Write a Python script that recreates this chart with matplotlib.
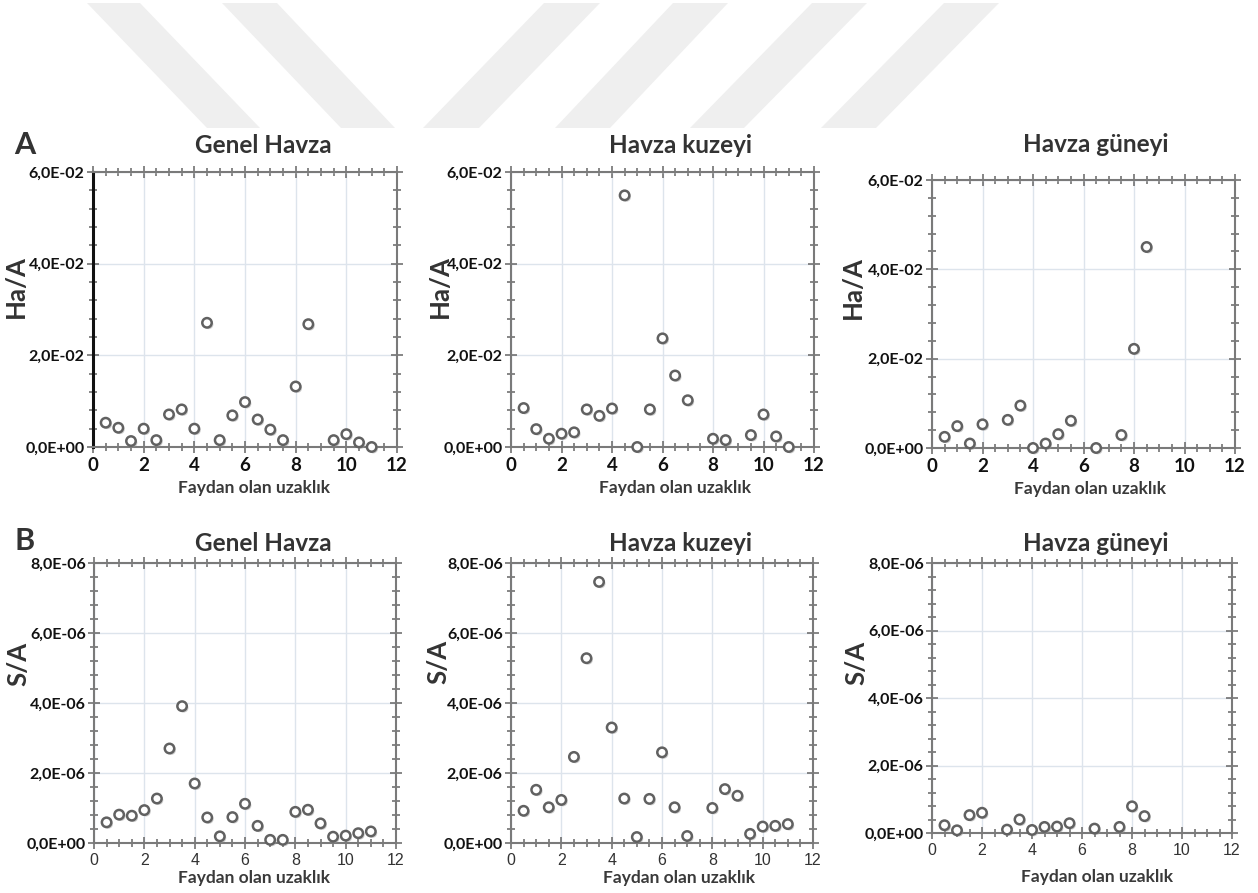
import matplotlib
matplotlib.use("Agg")
import matplotlib.pyplot as plt
import matplotlib.patheffects as pe
from matplotlib.patches import Polygon
from matplotlib.ticker import MultipleLocator, FuncFormatter

W, H = 1258, 893

# --- data ---
# A row: Ha/A
genel_ha_x = [0.5, 1, 1.5, 2, 2.5, 3, 3.5, 4, 4.5, 5, 5.5, 6, 6.5, 7, 7.5, 8, 8.5, 9.5, 10, 10.5, 11]
genel_ha_y = [0.0053, 0.0042, 0.0013, 0.0040, 0.0015, 0.0071, 0.0082, 0.0040, 0.0271, 0.0015, 0.0069,
              0.0098, 0.0060, 0.0038, 0.0015, 0.0132, 0.0268, 0.0015, 0.0028, 0.0010, 0.0]

kuzey_ha_x = [0.5, 1, 1.5, 2, 2.5, 3, 3.5, 4, 4.5, 5, 5.5, 6, 6.5, 7, 8, 8.5, 9.5, 10, 10.5, 11]
kuzey_ha_y = [0.0085, 0.0039, 0.0018, 0.0029, 0.0032, 0.0082, 0.0068, 0.0084, 0.0549, 0.0, 0.0082,
              0.0237, 0.0156, 0.0102, 0.0018, 0.0015, 0.0026, 0.0071, 0.0023, 0.0]

guney_ha_x = [0.5, 1, 1.5, 2, 3, 3.5, 4, 4.5, 5, 5.5, 6.5, 7.5, 8, 8.5]
guney_ha_y = [0.0025, 0.0049, 0.0010, 0.0053, 0.0063, 0.0095, 0.0, 0.0010, 0.0031, 0.0061, 0.0,
              0.0029, 0.0222, 0.0450]

# B row: S/A
genel_s_x = [0.5, 1, 1.5, 2, 2.5, 3, 3.5, 4, 4.5, 5, 5.5, 6, 6.5, 7, 7.5, 8, 8.5, 9, 9.5, 10, 10.5, 11]
genel_s_y = [0.59e-6, 0.81e-6, 0.78e-6, 0.94e-6, 1.27e-6, 2.70e-6, 3.91e-6, 1.70e-6, 0.73e-6, 0.19e-6,
             0.74e-6, 1.12e-6, 0.49e-6, 0.09e-6, 0.09e-6, 0.89e-6, 0.95e-6, 0.56e-6, 0.18e-6, 0.21e-6,
             0.28e-6, 0.33e-6]

kuzey_s_x = [0.5, 1, 1.5, 2, 2.5, 3, 3.5, 4, 4.5, 5, 5.5, 6, 6.5, 7, 8, 8.5, 9, 9.5, 10, 10.5, 11]
kuzey_s_y = [0.92e-6, 1.52e-6, 1.02e-6, 1.23e-6, 2.46e-6, 5.28e-6, 7.46e-6, 3.30e-6, 1.27e-6, 0.17e-6,
             1.26e-6, 2.59e-6, 1.02e-6, 0.20e-6, 1.00e-6, 1.54e-6, 1.35e-6, 0.26e-6, 0.47e-6, 0.49e-6,
             0.54e-6]

guney_s_x = [0.5, 1, 1.5, 2, 3, 3.5, 4, 4.5, 5, 5.5, 6.5, 7.5, 8, 8.5]
guney_s_y = [0.23e-6, 0.08e-6, 0.53e-6, 0.60e-6, 0.10e-6, 0.40e-6, 0.09e-6, 0.18e-6, 0.19e-6, 0.29e-6,
             0.13e-6, 0.18e-6, 0.79e-6, 0.50e-6]

titles = ["Genel Havza", "Havza kuzeyi", "Havza güneyi"]
xlabel = "Faydan olan uzaklık"


def px_rect(l, r, t, b):
    return [l / W, 1 - b / H, (r - l) / W, (b - t) / H]


def sci_comma(v, pos):
    return f"{v:.1E}".replace(".", ",")


plt.rcParams['font.family'] = ['Lato', 'DejaVu Sans']
fig = plt.figure(figsize=(W / 100, H / 100), dpi=100)

# faint watermark stripes at the top (two "\" then four "/")
stripes = [((87, 140), (207, 260)), ((222, 277), (341, 395)), ((544, 600), (423, 479)),
           ((673, 728), (555, 610)), ((812, 867), (690, 744)), ((944, 999), (821, 876))]
for (t0, t1), (b0, b1) in stripes:
    pts = [(t0 / W, 1 - 3 / H), (t1 / W, 1 - 3 / H), (b1 / W, 1 - 128 / H), (b0 / W, 1 - 128 / H)]
    fig.patches.append(Polygon(pts, closed=True, transform=fig.transFigure,
                               facecolor='#efefef', edgecolor='none', zorder=0))

panels = [
    # data x, data y, rect, ymax, ystep, ylabel, title pos, ylabel pos, xlabel pos, top row
    (genel_ha_x, genel_ha_y, px_rect(93, 397, 172, 447), 0.06, 0.02, "Ha/A",
     (0.56, 1.098), (-0.214, 0.585), (0.53, -0.12), True),
    (kuzey_ha_x, kuzey_ha_y, px_rect(511, 814, 172, 447), 0.06, 0.02, "Ha/A",
     (0.558, 1.098), (-0.195, 0.585), (0.54, -0.12), True),
    (guney_ha_x, guney_ha_y, px_rect(932, 1235, 180, 448), 0.06, 0.02, "Ha/A",
     (0.541, 1.131), (-0.221, 0.60), (0.52, -0.123), True),
    (genel_s_x, genel_s_y, px_rect(94, 396, 563, 843), 8e-6, 2e-6, "S/A",
     (0.56, 1.071), (-0.212, 0.64), (0.53, -0.096), False),
    (kuzey_s_x, kuzey_s_y, px_rect(511, 813, 563, 843), 8e-6, 2e-6, "S/A",
     (0.56, 1.071), (-0.202, 0.645), (0.556, -0.096), False),
    (guney_s_x, guney_s_y, px_rect(932, 1232, 563, 833), 8e-6, 2e-6, "S/A",
     (0.547, 1.074), (-0.213, 0.63), (0.55, -0.133), False),
]

shadow = [pe.SimplePatchShadow(offset=(1.2, -1.2), shadow_rgbFace='#999999', alpha=0.5), pe.Normal()]

for i, (xs, ys, rect, ymax, ystep, ylab, tpos, ylpos, xlpos, top_row) in enumerate(panels):
    ax = fig.add_axes(rect)
    ax.scatter(xs, ys, s=46, facecolor='white', edgecolor='#616161', linewidth=1.8,
               zorder=5, clip_on=False, path_effects=shadow)
    ax.set_xlim(0, 12)
    ax.set_ylim(0, ymax)
    ax.xaxis.set_major_locator(MultipleLocator(2))
    ax.xaxis.set_minor_locator(MultipleLocator(0.5))
    ax.yaxis.set_major_locator(MultipleLocator(ystep))
    ax.yaxis.set_minor_locator(MultipleLocator(ystep / 5))
    ax.yaxis.set_major_formatter(FuncFormatter(sci_comma))
    ax.grid(which='major', color='#dde4ec', linewidth=1.0, zorder=0)
    ax.set_axisbelow(True)

    for side in ['top', 'right', 'bottom', 'left']:
        ax.spines[side].set_color('#7a7a7a')
        ax.spines[side].set_linewidth(1.5)
    if i == 0:
        ax.spines['left'].set_color('#111111')
        ax.spines['left'].set_linewidth(2.2)

    ax.tick_params(which='both', direction='inout', top=True, right=True, color='#666666', width=1.1)
    ax.tick_params(which='major', length=8)
    ax.tick_params(which='minor', length=6)
    ax.tick_params(axis='y', which='major', pad=2)

    for lab in ax.get_yticklabels():
        lab.set_fontsize(11.5)
        lab.set_fontweight('bold')
        lab.set_color('#111111')
    for lab in ax.get_xticklabels():
        if top_row:
            lab.set_fontsize(13.5)
            lab.set_fontweight('bold')
            lab.set_color('#111111')
        else:
            lab.set_fontsize(11.5)
            lab.set_family('Liberation Sans')
            lab.set_color('#333333')

    ax.set_ylabel(ylab, fontsize=18.5, fontweight='bold', color='#333333')
    ax.yaxis.set_label_coords(*ylpos)
    ax.set_xlabel(xlabel, fontsize=12.5, fontweight='bold', color='#3a3a3a')
    ax.xaxis.set_label_coords(*xlpos)

    ax.text(tpos[0], tpos[1], titles[i % 3], transform=ax.transAxes, ha='center', va='center',
            fontsize=17.5, fontweight='bold', color='#333333')

fig.text(25 / W, 1 - 145 / H, "A", ha='center', va='center', fontsize=22, fontweight='bold', color='#333333')
fig.text(25 / W, 1 - 541 / H, "B", ha='center', va='center', fontsize=22, fontweight='bold', color='#333333')

fig.savefig("out.png", dpi=100)
